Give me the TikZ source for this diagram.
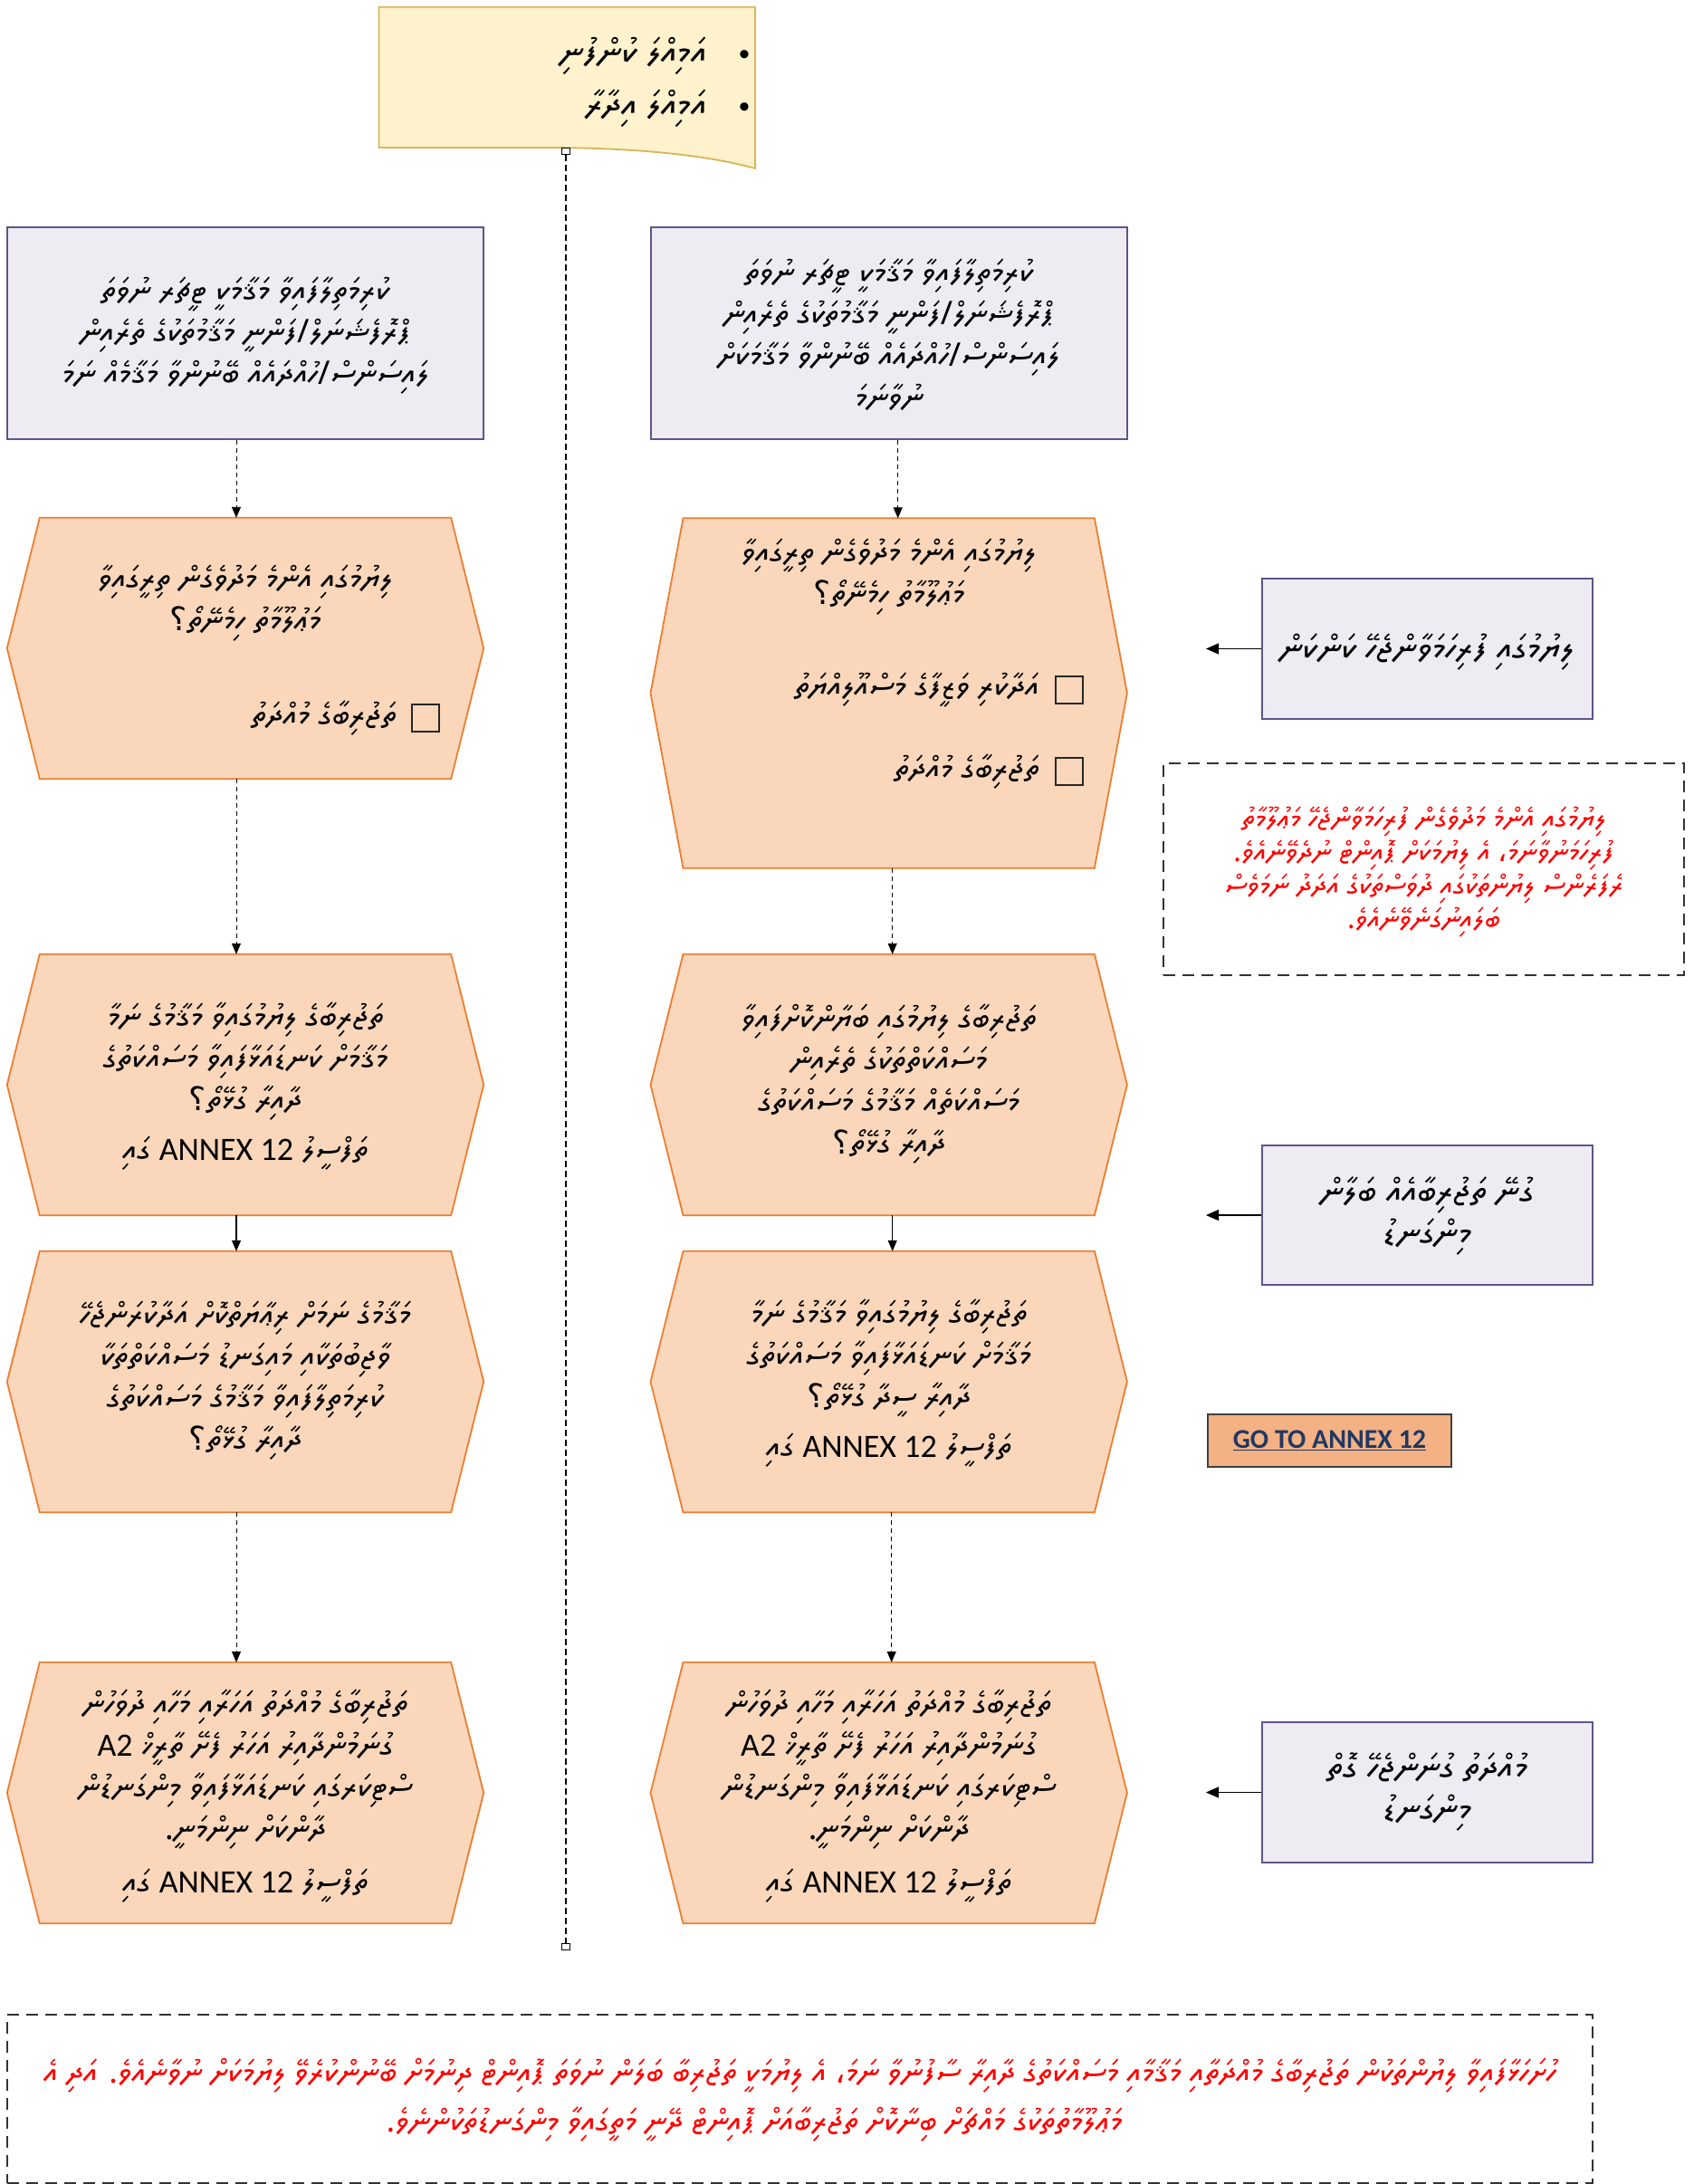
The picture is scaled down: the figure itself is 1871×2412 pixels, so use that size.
\documentclass[tikz,border=0pt]{standalone}
\usepackage{fontspec}
\usetikzlibrary{arrows.meta,calc}
\setmainfont{Carlito}
\TeXXeTstate=1
\newfontfamily\arabicfont[Script=Arabic]{DejaVu Sans}
\newfontfamily\latinfont{Carlito}
\newfontfamily\thaana[Script=Thaana]{Noto Sans Thaana}
\newcommand\dv[1]{{\thaana\beginR #1\endR}}
\newcommand\latw[1]{{\latinfont\beginL #1\endL}}
\newcommand\qmk{{\arabicfont ؟}}
\newcommand\cmm{{\arabicfont ،}}
\definecolor{notefill}{HTML}{FFF2CC}
\definecolor{noteline}{HTML}{D6B656}
\definecolor{boxfill}{HTML}{EEEBF2}
\definecolor{boxline}{HTML}{5F5488}
\definecolor{hexfill}{HTML}{FAD7BA}
\definecolor{hexline}{HTML}{ED7D31}
\definecolor{redtxt}{HTML}{FF0000}
\definecolor{dashline}{HTML}{333333}
\definecolor{gofill}{HTML}{F4B183}
\definecolor{goline}{HTML}{3F3F3F}
\definecolor{gotext}{HTML}{1F3864}
\tikzset{
  lavbox/.style={draw=boxline, fill=boxfill, line width=1.6pt, inner sep=0pt},
  hexbody/.style={draw=none, inner sep=0pt},
  hexshape/.style={draw=hexline, fill=hexfill, line width=1.8pt, line join=miter},
  dvtext/.style={align=center, inner sep=0pt, font=\thaana\fontsize{36}{46}\selectfont},
  sidetext/.style={align=center, inner sep=0pt, font=\thaana\fontsize{39}{46}\selectfont},
  notetext/.style={align=center, inner sep=0pt, font=\thaana\fontsize{40}{46}\selectfont},
  redtext/.style={align=center, inner sep=0pt, text=redtxt, font=\thaana\fontsize{32}{37}\selectfont},
  bigred/.style={inner sep=0pt, text=redtxt, font=\thaana\fontsize{36}{54}\selectfont},
  chkbox/.style={draw=black!85, line width=2pt, minimum size=30pt, inner sep=0pt},
  conn/.style={draw=black, line width=0.9pt, dash pattern=on 5pt off 4pt, -{Triangle[length=12pt,width=10pt]}},
  solidconn/.style={draw=black, line width=1.1pt, -{Triangle[length=12pt,width=10pt]}},
  sidearrow/.style={draw=black, line width=1.1pt, -{Triangle[length=14pt,width=12pt]}},
  vline/.style={draw=black, line width=1.4pt, dash pattern=on 7pt off 4pt},
  endsq/.style={draw=black, fill=white, line width=1pt, minimum width=9pt, minimum height=7pt, inner sep=0pt},
  dashbox/.style={draw=dashline, line width=1.6pt, dash pattern=on 13pt off 8pt, inner sep=0pt},
  gobtn/.style={draw=goline, fill=gofill, line width=1.6pt, minimum width=269pt, minimum height=58pt, inner sep=0pt,
     text=gotext, font=\latinfont\bfseries\fontsize{30}{32}\selectfont},
  bul/.style={inner sep=0pt, font=\latinfont\fontsize{26}{26}\selectfont},
}
\newcommand\hexdraw[2]{%
  \draw[hexshape] ([xshift=#2]#1.north west) -- ([xshift=-#2]#1.north east) -- (#1.east)
    -- ([xshift=-#2]#1.south east) -- ([xshift=#2]#1.south west) -- (#1.west) -- cycle;}
\begin{document}
\begin{tikzpicture}[x=1pt,y=-1pt]
\useasboundingbox (0,0) rectangle (1871,2412);
\fill[white] (0,0) rectangle (1871,2412);

% ---------- top note ----------
\draw[fill=notefill, draw=noteline, line width=1.8pt] (418.5,7.7) -- (834,7.7) -- (834,186)
   .. controls (780,171) and (700,163) .. (600,163) -- (418.5,163) -- cycle;
\node[bul] (b1) at (822,62) {•};
\node[bul] (b2) at (822,120) {•};
\node[notetext, anchor=east] (n1) at (781,62) {\dv{އަމިއްލަ ކުންފުނި}};
\node[notetext, anchor=east] (n2) at (781,120) {\dv{އަމިއްލަ އިދާރާ}};

% ---------- vertical separator ----------
\node[endsq] (vtop) at (625,167) {};
\node[endsq] (vbot) at (625,2150) {};
\draw[vline] (vtop) -- (vbot);

% ---------- condition boxes ----------
\node[lavbox, minimum width=526pt, minimum height=234pt] (rectL) at (271,368) {};
\node[dvtext] (rectLt) at (271,371) {\dv{ކުރިމަތިލާފައިވާ މަޤާމަކީ ޓީޗަރ ނުވަތަ}\\
  \dv{ޕްރޮފެޝަނަލް/ފަންނީ މަޤާމުތަކުގެ ތެރެއިން}\\
  \dv{ލައިސަންސް/ހުއްދައެއް ބޭނުންވާ މަޤާމެއް ނަމަ}};
\node[lavbox, minimum width=526pt, minimum height=234pt] (rectR) at (981.7,368) {};
\node[dvtext] (rectRt) at (981.7,370) {\dv{ކުރިމަތިލާފައިވާ މަޤާމަކީ ޓީޗަރ ނުވަތަ}\\
  \dv{ޕްރޮފެޝަނަލް/ފަންނީ މަޤާމުތަކުގެ ތެރެއިން}\\
  \dv{ލައިސަންސް/ހުއްދައެއް ބޭނުންވާ މަޤާމަކަށް}\\
  \dv{ނުވާނަމަ}};

% ---------- hexagon 1 ----------
\node[hexbody, minimum width=526pt, minimum height=288pt] (hL1) at (271,716) {};
\hexdraw{hL1}{36pt}
\node[dvtext] (hL1t) at (271,666) {\dv{ލިޔުމުގައި އެންމެ މަދުވެގެން ތިރީގައިވާ}\\
  \dv{މަޢުލޫމާތު ހިމެނޭތޯ\qmk}};
\node[chkbox] (cL1) at (470,793) {};
\node[dvtext, anchor=east] (cL1t) at (438,793) {\dv{ތަޖުރިބާގެ މުއްދަތު}};

\node[hexbody, minimum width=526pt, minimum height=386pt] (hR1) at (981.7,765.5) {};
\hexdraw{hR1}{36pt}
\node[dvtext] (hR1t) at (981.7,637) {\dv{ލިޔުމުގައި އެންމެ މަދުވެގެން ތިރީގައިވާ}\\
  \dv{މަޢުލޫމާތު ހިމެނޭތޯ\qmk}};
\node[chkbox] (cR1) at (1181,762) {};
\node[dvtext, anchor=east] (cR1t) at (1148,762) {\dv{އަދާކުރި ވަޒީފާގެ މަސްއޫލިއްޔަތު}};
\node[chkbox] (cR2) at (1181,852) {};
\node[dvtext, anchor=east] (cR2t) at (1148,852) {\dv{ތަޖުރިބާގެ މުއްދަތު}};

% ---------- hexagon 2 ----------
\node[hexbody, minimum width=526pt, minimum height=288pt] (hL2) at (271,1198) {};
\hexdraw{hL2}{36pt}
\node[dvtext] (hL2t) at (271,1172) {\dv{ތަޖުރިބާގެ ލިޔުމުގައިވާ މަޤާމުގެ ނަމާ}\\
  \dv{މަޤާމަށް ކަނޑައަޅާފައިވާ މަސައްކަތުގެ}\\
  \dv{ދާއިރާ ގުޅޭތޯ\qmk}};
\node[dvtext] (hL2a) at (271,1274) {\dv{ތަފްސީލު \latw{ANNEX 12} ގައި}};

\node[hexbody, minimum width=526pt, minimum height=288pt] (hR2) at (981.7,1198) {};
\hexdraw{hR2}{36pt}
\node[dvtext] (hR2t) at (981.7,1197) {\dv{ތަޖުރިބާގެ ލިޔުމުގައި ބަޔާންކޮށްފައިވާ}\\
  \dv{މަސައްކަތްތަކުގެ ތެރެއިން}\\
  \dv{މަސައްކަތެއް މަޤާމުގެ މަސައްކަތުގެ}\\
  \dv{ދާއިރާ ގުޅޭތޯ\qmk}};

% ---------- hexagon 3 ----------
\node[hexbody, minimum width=526pt, minimum height=288pt] (hL3) at (271,1526) {};
\hexdraw{hL3}{36pt}
\node[dvtext] (hL3t) at (271,1525) {\dv{މަޤާމުގެ ނަމަށް ރިޢާޔަތްކޮށް އަދާކުރަންޖެހޭ}\\
  \dv{ވާޖިބުތަކާއި މައިގަނޑު މަސައްކަތްތަކާ}\\
  \dv{ކުރިމަތިލާފައިވާ މަޤާމުގެ މަސައްކަތުގެ}\\
  \dv{ދާއިރާ ގުޅޭތޯ\qmk}};

\node[hexbody, minimum width=526pt, minimum height=288pt] (hR3) at (981.7,1526) {};
\hexdraw{hR3}{36pt}
\node[dvtext] (hR3t) at (981.7,1500) {\dv{ތަޖުރިބާގެ ލިޔުމުގައިވާ މަޤާމުގެ ނަމާ}\\
  \dv{މަޤާމަށް ކަނޑައަޅާފައިވާ މަސައްކަތުގެ}\\
  \dv{ދާއިރާ ސީދާ ގުޅޭތޯ\qmk}};
\node[dvtext] (hR3a) at (981.7,1602) {\dv{ތަފްސީލު \latw{ANNEX 12} ގައި}};

% ---------- hexagon 4 ----------
\node[hexbody, minimum width=526pt, minimum height=288pt] (hL4) at (271,1980) {};
\hexdraw{hL4}{36pt}
\node[dvtext] (hL4t) at (271,1954) {\dv{ތަޖުރިބާގެ މުއްދަތު އަހަރާއި މަހާއި ދުވަހުން}\\
  \dv{ގުނަމުންދާއިރު އަހަރު ފެށޭ ތާރީޚް \latw{A2}}\\
  \dv{ސްޓިކަރގައި ކަނޑައަޅާފައިވާ މިންގަނޑުން}\\
  \dv{ދާންކަށް ނިންމަނީ.}};
\node[dvtext] (hL4a) at (271,2083) {\dv{ތަފްސީލު \latw{ANNEX 12} ގައި}};

\node[hexbody, minimum width=526pt, minimum height=288pt] (hR4) at (981.7,1980) {};
\hexdraw{hR4}{36pt}
\node[dvtext] (hR4t) at (981.7,1954) {\dv{ތަޖުރިބާގެ މުއްދަތު އަހަރާއި މަހާއި ދުވަހުން}\\
  \dv{ގުނަމުންދާއިރު އަހަރު ފެށޭ ތާރީޚް \latw{A2}}\\
  \dv{ސްޓިކަރގައި ކަނޑައަޅާފައިވާ މިންގަނޑުން}\\
  \dv{ދާންކަށް ނިންމަނީ.}};
\node[dvtext] (hR4a) at (981.7,2083) {\dv{ތަފްސީލު \latw{ANNEX 12} ގައި}};

% ---------- side boxes ----------
\node[lavbox, minimum width=365pt, minimum height=155pt] (s1) at (1576.5,716.5) {};
\node[sidetext] (s1t) at (1576.5,720) {\dv{ލިޔުމުގައި ފުރިހަމަވާންޖެހޭ ކަންކަން}};
\node[lavbox, minimum width=365pt, minimum height=154pt] (s2) at (1576.5,1342) {};
\node[sidetext] (s2t) at (1576.5,1343) {\dv{ގުނޭ ތަޖުރިބާއެއް ބަލާން}\\\dv{މިންގަނޑު}};
\node[lavbox, minimum width=365pt, minimum height=155pt] (s3) at (1576.5,1979.5) {};
\node[sidetext] (s3t) at (1576.5,1979) {\dv{މުއްދަތު ގުނަންޖެހޭ ގޮތް}\\\dv{މިންގަނޑު}};
\coordinate (s1e) at (1332,716.5);
\coordinate (s2e) at (1332,1342);
\coordinate (s3e) at (1332,1979.5);
\draw[sidearrow] (s1.west) -- (s1e);
\draw[sidearrow] (s2.west) -- (s2e);
\draw[sidearrow] (s3.west) -- (s3e);

% ---------- red note ----------
\node[dashbox, minimum width=575pt, minimum height=234pt] (rbox) at (1572.5,960) {};
\node[redtext] (rboxt) at (1572.5,963) {\dv{ލިޔުމުގައި އެންމެ މަދުވެގެން ފުރިހަމަވާންޖެހޭ މަޢުލޫމާތު}\\
  \dv{ފުރިހަމަނުވާނަމަ\cmm{} އެ ލިޔުމަކަށް ޕޮއިންޓް ނުދެވޭނެއެވެ.}\\
  \dv{ރެފަރެންސް ލިޔުންތަކުގައި ދުވަސްތަކުގެ އަދަދު ނަމަވެސް}\\
  \dv{ބަލައިނުގަނެވޭނެއެވެ.}};

% ---------- go to ----------
\node[gobtn] (go) at (1468.5,1591) {\underline{GO TO ANNEX 12}};

% ---------- bottom note ----------
\node[dashbox, minimum width=1751pt, minimum height=186pt] (bbox) at (883.5,2318) {};
\node[bigred] (bline1) at (883.5,2292) {%
  \dv{ހުށަހަޅާފައިވާ ލިޔުންތަކުން ތަޖުރިބާގެ މުއްދަތާއި މަޤާމާއި މަސައްކަތުގެ ދާއިރާ ސާފުނުވާ ނަމަ\cmm{} އެ ލިޔުމަކީ ތަޖުރިބާ ބަލަން ނުވަތަ ޕޮއިންޓް ދިނުމަށް ބޭނުންކުރެވޭ ލިޔުމަކަށް ނުވާނެއެވެ. އަދި އެ}};
\node[bigred] (bline2) at (833,2346) {%
  \dv{މަޢުލޫމާތުތަކުގެ މައްޗަށް ބިނާކޮށް ތަޖުރިބާއަށް ޕޮއިންޓް ދޭނީ މަތީގައިވާ މިންގަނޑުތަކުންނެވެ.}};

% ---------- connectors ----------
\draw[conn] ([xshift=-10pt]rectL.south) -- ([xshift=-10pt]hL1.north);
\draw[conn] ([xshift=-10pt]hL1.south) -- ([xshift=-10pt]hL2.north);
\draw[solidconn] ([xshift=-10pt]hL2.south) -- ([xshift=-10pt]hL3.north);
\draw[conn] ([xshift=-10pt]hL3.south) -- ([xshift=-10pt]hL4.north);
\draw[conn] ([xshift=10pt]rectR.south) -- ([xshift=10pt]hR1.north);
\draw[conn] ([xshift=4pt]hR1.south) -- ([xshift=4pt]hR2.north);
\draw[solidconn] ([xshift=4pt]hR2.south) -- ([xshift=4pt]hR3.north);
\draw[conn] ([xshift=3pt]hR3.south) -- ([xshift=3pt]hR4.north);
\end{tikzpicture}
\end{document}
